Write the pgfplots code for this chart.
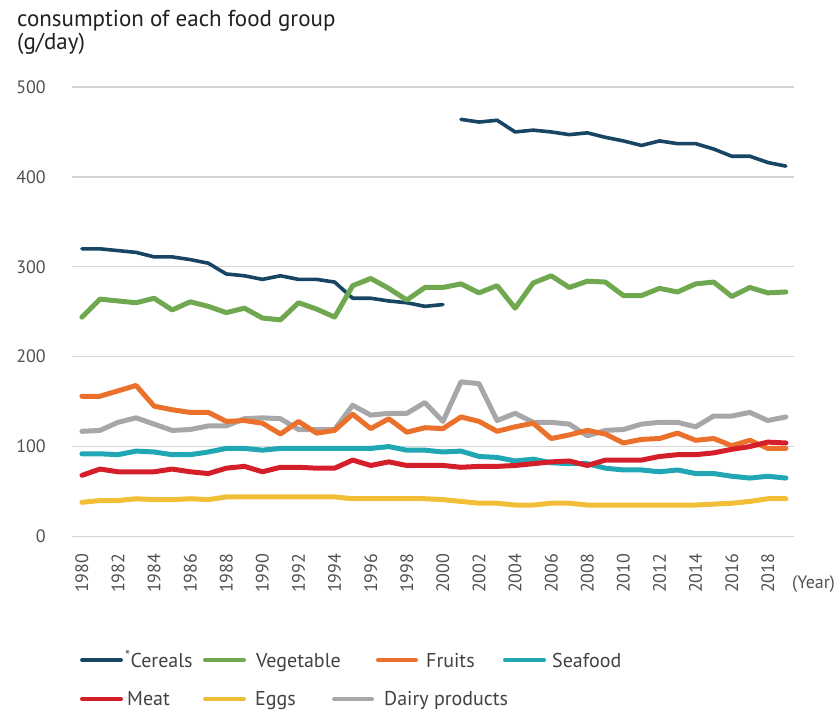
\documentclass[border=0pt]{standalone}
\usepackage{pgfplots}
\pgfplotsset{compat=1.18}
\usepackage{pgfplotstable}
\usepackage{fontspec}
\setmainfont{PT Sans}
\definecolor{cCer}{HTML}{174563}
\definecolor{cVeg}{HTML}{70A850}
\definecolor{cFru}{HTML}{EA702B}
\definecolor{cSea}{HTML}{21A6B4}
\definecolor{cMea}{HTML}{D41E2A}
\definecolor{cEgg}{HTML}{F1BE38}
\definecolor{cDai}{HTML}{A7A7AA}
\definecolor{cGrid}{HTML}{D4D4D4}
\definecolor{cTick}{HTML}{505050}
\definecolor{cText}{HTML}{231F20}

\pgfplotstableread{
year veg fru dai sea mea egg
1980 244 156 117 92 68 38
1981 264 156 118 92 75 40
1982 262 162 127 91 72 40
1983 260 168 132 95 72 42
1984 265 145 125 94 72 41
1985 252 141 118 91 75 41
1986 261 138 119 91 72 42
1987 256 138 123 94 70 41
1988 249 128 123 98 76 44
1989 254 129 131 98 78 44
1990 243 126 132 96 72 44
1991 241 114 131 98 77 44
1992 260 128 119 98 77 44
1993 253 115 119 98 76 44
1994 244 118 119 98 76 44
1995 279 136 146 98 85 42
1996 287 120 135 98 79 42
1997 276 131 137 100 83 42
1998 263 116 137 96 79 42
1999 277 121 149 96 79 42
2000 277 120 128 94 79 41
2001 281 133 172 95 77 39
2002 271 128 170 89 78 37
2003 279 117 129 88 78 37
2004 254 122 137 84 79 35
2005 282 126 127 86 81 35
2006 290 109 127 82 83 37
2007 277 113 125 81 84 37
2008 284 118 112 81 79 35
2009 283 114 118 76 85 35
2010 268 104 119 74 85 35
2011 268 108 125 74 85 35
2012 276 109 127 72 89 35
2013 272 115 127 74 91 35
2014 281 107 122 70 91 35
2015 283 109 134 70 93 36
2016 267 101 134 67 97 37
2017 277 107 138 65 100 39
2018 271 98 129 67 105 42
2019 272 98 133 65 104 42
}\maindata

\pgfplotstableread{
year cer
1980 320
1981 320
1982 318
1983 316
1984 311
1985 311
1986 308
1987 304
1988 292
1989 290
1990 286
1991 290
1992 286
1993 286
1994 283
1995 265
1996 265
1997 262
1998 260
1999 256
2000 258
}\cerA

\pgfplotstableread{
year cer
2001 464
2002 461
2003 463
2004 450
2005 452
2006 450
2007 447
2008 449
2009 444
2010 440
2011 435
2012 440
2013 437
2014 437
2015 431
2016 423
2017 423
2018 416
2019 412
}\cerB

\begin{document}
\begin{tikzpicture}[x=1pt,y=1pt]
\path[use as bounding box] (0,0) rectangle (835,711);
\begin{axis}[
  at={(72pt,174.5pt)}, anchor=south west,
  scale only axis, width=722pt, height=449.5pt,
  xmin=1979.45, xmax=2019.45, ymin=0, ymax=500,
  axis line style={draw=none},
  major tick length=0pt,
  ymajorgrids,
  major grid style={line width=1.3pt, color=cGrid},
  ytick={0,100,200,300,400,500},
  xtick={1980,1982,...,2018},
  /pgf/number format/1000 sep={},
  /pgf/number format/assume math mode=true,
  tick label style={font=\fontsize{18}{20}\selectfont, text=cTick},
  yticklabel style={anchor=east, inner sep=0pt, xshift=-26pt},
  xticklabel style={rotate=90, anchor=east, inner sep=0pt, xshift=-17pt},
  clip=false,
  every axis plot/.append style={line join=round, line cap=round, no markers},
]
\addplot[cCer, line width=3.6pt] table[x=year, y=cer] {\cerA};
\addplot[cCer, line width=3.6pt] table[x=year, y=cer] {\cerB};
\addplot[cVeg, line width=5pt] table[x=year, y=veg] {\maindata};
\addplot[cEgg, line width=5pt] table[x=year, y=egg] {\maindata};
\addplot[cDai, line width=5pt] table[x=year, y=dai] {\maindata};
\addplot[cFru, line width=5pt] table[x=year, y=fru] {\maindata};
\addplot[cSea, line width=5pt] table[x=year, y=sea] {\maindata};
\addplot[cMea, line width=5pt] table[x=year, y=mea] {\maindata};
\end{axis}

% title
\node[anchor=base west, inner sep=0pt, text=cText, font=\fontsize{23}{26}\selectfont] at (17,711-27) {consumption of each food group};
\node[anchor=base west, inner sep=0pt, text=cText, font=\fontsize{23}{26}\selectfont] at (17,711-50) {(g/day)};
% x axis unit
\node[anchor=base west, inner sep=0pt, text=cTick, font=\fontsize{18}{20}\selectfont] at (792,711-589) {(Year)};

% legend
\begin{scope}[line cap=round, font=\fontsize{20}{22}\selectfont, every node/.style={anchor=base west, inner sep=0pt, text=cText!85}]
\draw[cCer, line width=3.8pt] (82,711-660) -- (121,711-660);
\node at (125,711-668) {\textsuperscript{*}Cereals};
\draw[cVeg, line width=4pt] (205,711-660) -- (244,711-660);
\node at (256,711-668) {Vegetable};
\draw[cFru, line width=4pt] (378,711-660) -- (416,711-660);
\node at (426,711-668) {Fruits};
\draw[cSea, line width=4pt] (505,711-660) -- (544,711-660);
\node at (552,711-668) {Seafood};
\draw[cMea, line width=4pt] (82,711-699) -- (121,711-699);
\node at (127,711-706) {Meat};
\draw[cEgg, line width=4pt] (205,711-699) -- (244,711-699);
\node at (255,711-706) {Eggs};
\draw[cDai, line width=4pt] (334,711-699) -- (372,711-699);
\node at (384,711-706) {Dairy products};
\end{scope}
\end{tikzpicture}
\end{document}
